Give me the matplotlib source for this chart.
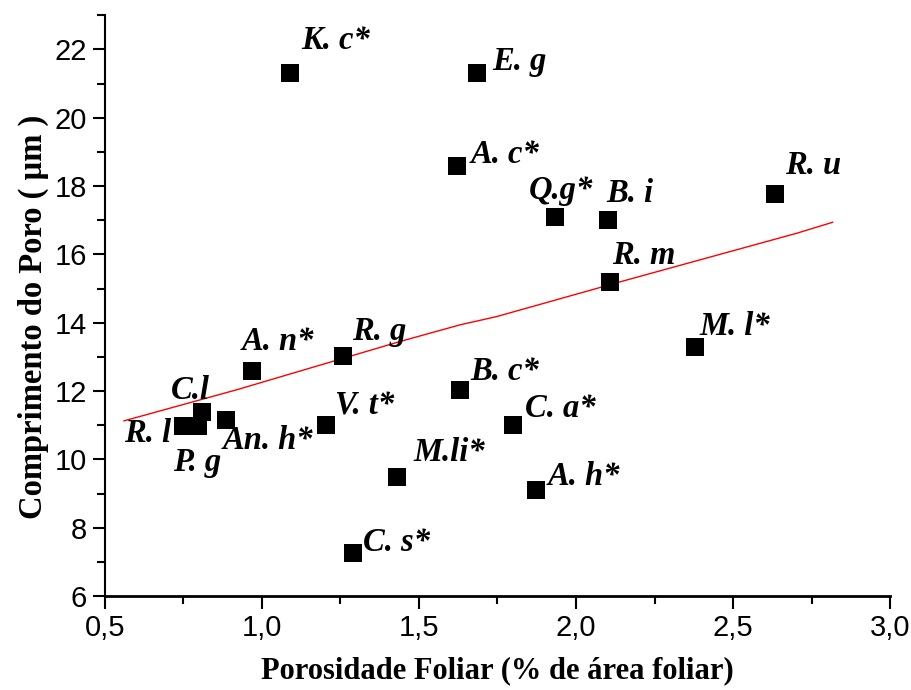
import matplotlib
matplotlib.use('Agg')
import matplotlib.pyplot as plt
import numpy as np
from matplotlib.ticker import MultipleLocator, FuncFormatter

# species labels and values
labels = ['K. c*', 'E. g', 'A. c*', 'Q.g*', 'B. i', 'R. u', 'R. m', 'M. l*',
          'B. c*', 'C. a*', 'M.li*', 'A. h*', 'C. s*', 'A. n*', 'R. g',
          'V. t*', 'An. h*', 'C.l', 'P. g', 'R. l']
porosidade = [1.09, 1.684, 1.621, 1.933, 2.101, 2.635, 2.108, 2.379,
              1.63, 1.80, 1.43, 1.873, 1.289, 0.967, 1.257,
              1.204, 0.885, 0.81, 0.797, 0.749]
comprimento = [21.3, 21.3, 18.59, 17.08, 17.01, 17.77, 15.18, 13.29,
               12.02, 11.01, 9.5, 9.11, 7.25, 12.60, 13.03,
               11.01, 11.14, 11.4, 10.97, 10.98]

# red fit line
fit_x = [0.561, 0.92, 1.439, 1.631, 1.747, 2.161, 2.703, 2.817]
fit_y = [11.13, 12.04, 13.45, 13.94, 14.18, 15.25, 16.62, 16.94]

# label offsets in pixels (left / baseline of text relative to marker centre)
offsets = [(11, 24), (15, 3), (14, 3), (-26, 18), (-1, 18), (10, 20), (2, 18), (4, 12),
           (10, 10), (12, 8), (16, 16), (12, 5), (10, 2), (-10, 21), (9, 16),
           (9, 10), (-3, -29), (-31, 13), (-25, -45), (-59, -16)]

fig = plt.figure(figsize=(9.12, 6.9), dpi=100)
ax = fig.add_axes([0.115, 0.136, 0.861, 0.842])

ax.plot(fit_x, fit_y, '-', color='red', lw=1)
ax.scatter(porosidade, comprimento, marker='s', s=175, color='black', zorder=3, linewidths=0)

for lab, x, y, off in zip(labels, porosidade, comprimento, offsets):
    ax.annotate(lab, (x, y), xytext=off, textcoords='offset pixels',
                ha='left', va='baseline', fontsize=23.5, fontweight='bold',
                fontstyle='italic', family='Liberation Serif', zorder=4)

ax.set_xlim(0.5, 3.0)
ax.set_ylim(6, 23)
ax.xaxis.set_major_locator(MultipleLocator(0.5))
ax.xaxis.set_minor_locator(MultipleLocator(0.25))
ax.yaxis.set_major_locator(MultipleLocator(2))
ax.yaxis.set_minor_locator(MultipleLocator(1))
ax.xaxis.set_major_formatter(FuncFormatter(lambda v, p: ('%.1f' % v).replace('.', ',')))
ax.yaxis.set_major_formatter(FuncFormatter(lambda v, p: '%d' % v))

ax.spines['top'].set_visible(False)
ax.spines['right'].set_visible(False)
ax.spines['left'].set_linewidth(1.5)
ax.spines['bottom'].set_linewidth(2)
ax.tick_params(which='major', direction='out', length=9, width=1.5, labelsize=21, pad=4)
ax.tick_params(which='minor', direction='out', length=6, width=1.5)
for label in ax.get_xticklabels() + ax.get_yticklabels():
    label.set_family('Liberation Sans')

ax.set_xlabel('Porosidade Foliar (% de área foliar)', family='Liberation Serif',
              fontweight='bold', fontsize=22, labelpad=10)
ax.set_ylabel('Comprimento do Poro ( µm )', family='Liberation Serif',
              fontweight='bold', fontsize=23.5)
ax.yaxis.set_label_coords(-0.071, 0.48)

fig.savefig('out.png', dpi=100)
